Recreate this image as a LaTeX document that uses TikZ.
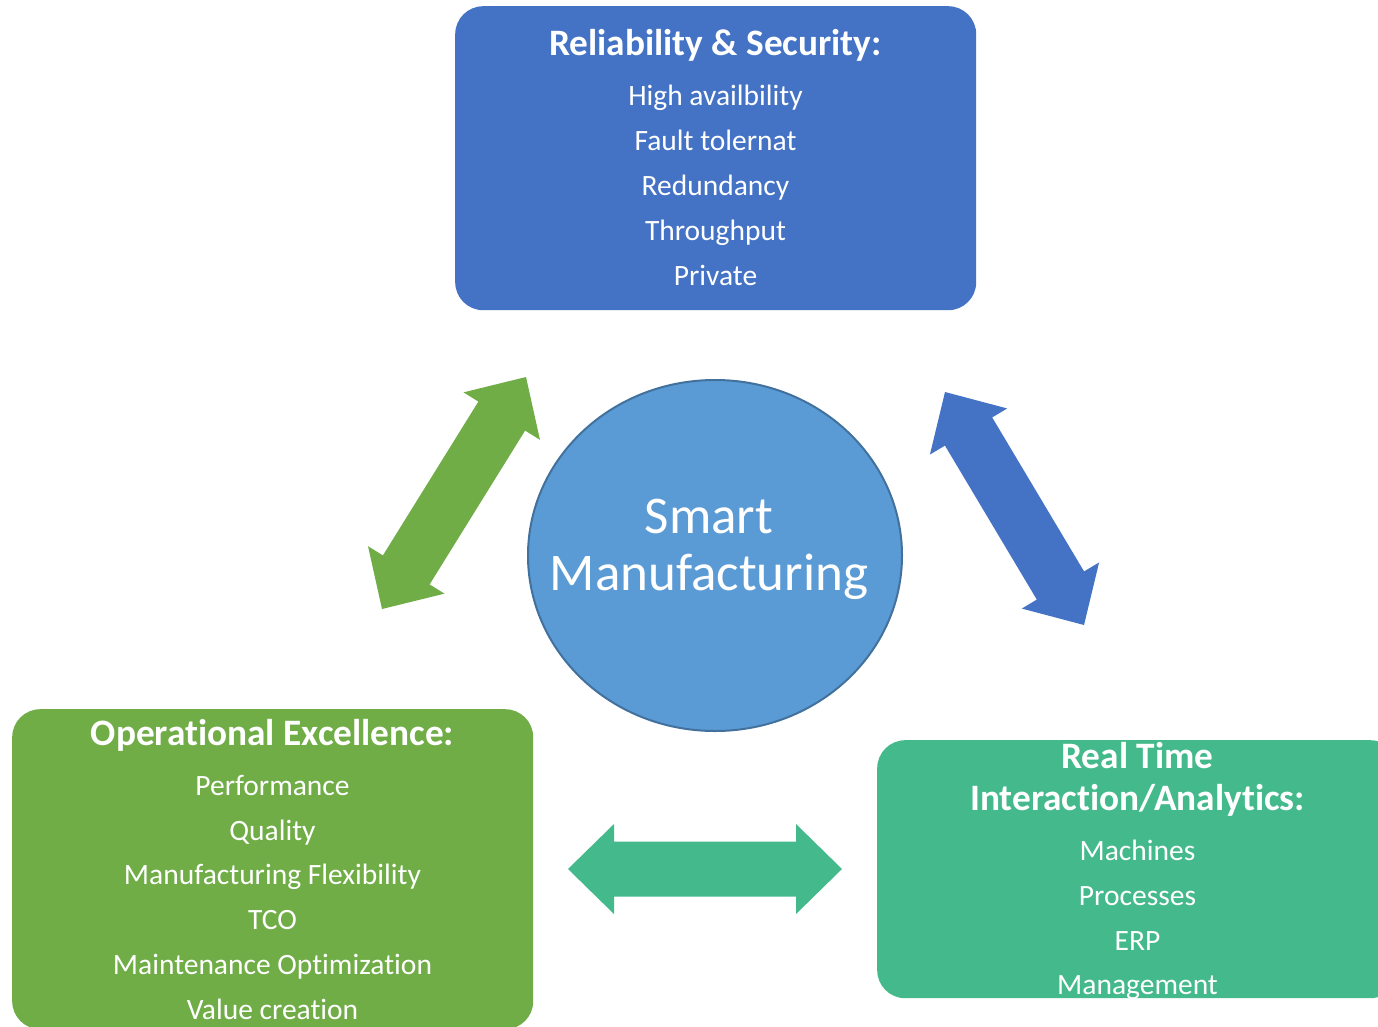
\documentclass[tikz,border=0pt]{standalone}
\usepackage{fontspec}
\setmainfont{Carlito}[Ligatures=NoCommon]
\usetikzlibrary{calc,shapes.geometric}
\definecolor{cBlue}{HTML}{4472C4}
\definecolor{cCircle}{HTML}{5B9BD5}
\definecolor{cCircleLine}{HTML}{41719C}
\definecolor{cGreen}{HTML}{70AD47}
\definecolor{cTeal}{HTML}{44BA8C}
\tikzset{
  box/.style={rectangle, rounded corners=28pt, minimum width=521pt, inner sep=0pt, anchor=north west},
  headtxt/.style={text=white, font=\fontsize{37.3}{40}\selectfont\bfseries, anchor=base, inner sep=0pt},
  itemtxt/.style={text=white, font=\fontsize{29.5}{34}\selectfont, anchor=base, inner sep=0pt},
  bigtxt/.style={text=white, font=\fontsize{53}{58}\selectfont, anchor=base, inner sep=0pt},
}
% block double arrow between two named tip coordinates
\newcommand{\blockarrow}[3]{%
  \path ($(#1)!46pt!(#2)$) coordinate (#1-n) ($(#2)!46pt!(#1)$) coordinate (#2-n);
  \fill[#3] (#1) -- ($(#1-n)!45pt!90:(#2)$) -- ($(#1-n)!27.5pt!90:(#2)$)
    -- ($(#2-n)!27.5pt!-90:(#1)$) -- ($(#2-n)!45pt!-90:(#1)$) -- (#2)
    -- ($(#2-n)!45pt!90:(#1)$) -- ($(#2-n)!27.5pt!90:(#1)$)
    -- ($(#1-n)!27.5pt!-90:(#2)$) -- ($(#1-n)!45pt!-90:(#2)$) -- cycle;}
\begin{document}
\begin{tikzpicture}[x=1pt,y=-1pt]
\useasboundingbox (0,0) rectangle (1378,1026);
\clip (0,0) rectangle (1378,1026);
\fill[white] (0,0) rectangle (1378,1026);

% boxes
\node[box, fill=cBlue, minimum height=304pt] (rs) at (455,6) {};
\node[box, fill=cGreen, minimum height=320pt] (oe) at (12,709) {};
\node[box, fill=cTeal, minimum height=258pt] (rt) at (877,740) {};

% circle
\node[ellipse, fill=cCircle, draw=cCircleLine, line width=2pt,
      minimum width=374pt, minimum height=351pt, inner sep=0pt] (sm) at (715,555.5) {};
\node[bigtxt] (sm-1) at (709,533) {Smart};
\node[bigtxt] (sm-2) at (709,590) {Manufacturing};

% top box text
\node[headtxt] (rs-h) at (715.5,55) {Reliability \& Security:};
\foreach \t/\y [count=\i] in {High availbility/105, Fault tolernat/150, Redundancy/195, Throughput/240, Private/285}
  \node[itemtxt] (rs-\i) at (715.5,\y) {\t};

% green box text
\node[headtxt] (oe-h) at (272.5,745) {Operational Excellence:};
\foreach \t/\y [count=\i] in {Performance/795, Quality/840, Manufacturing Flexibility/884, TCO/929, Maintenance Optimization/974, Value creation/1019}
  \node[itemtxt] (oe-\i) at (272.5,\y) {\t};

% teal box text
\node[headtxt] (rt-h1) at (1137.5,768) {Real Time};
\node[headtxt] (rt-h2) at (1137.5,810) {Interaction/Analytics:};
\foreach \t/\y [count=\i] in {Machines/860, Processes/905, ERP/950, Management/994}
  \node[itemtxt] (rt-\i) at (1137.5,\y) {\t};

% arrows
\coordinate (ga) at (526,377);
\coordinate (gb) at (382,609);
\coordinate (ba) at (945,392);
\coordinate (bb) at (1084,625);
\coordinate (ta) at (568,869);
\coordinate (tb) at (842,869);
\blockarrow{ga}{gb}{cGreen}
\blockarrow{ba}{bb}{cBlue}
\blockarrow{ta}{tb}{cTeal}
\end{tikzpicture}
\end{document}
